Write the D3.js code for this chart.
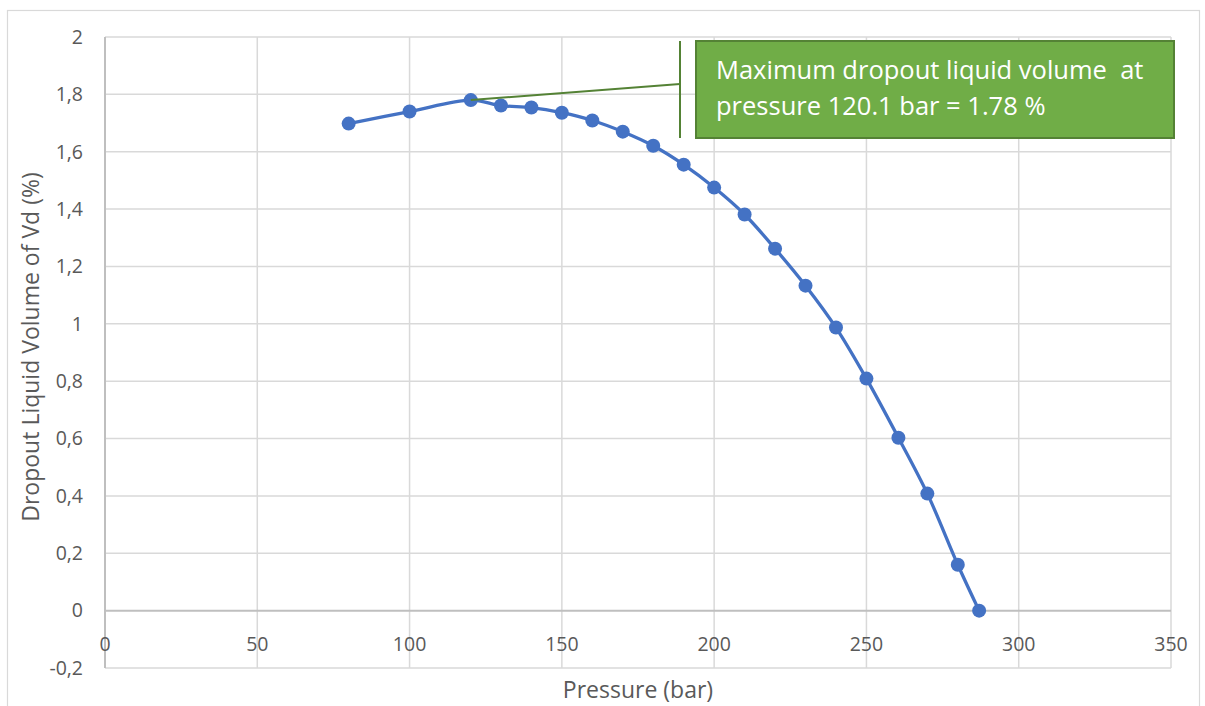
<!DOCTYPE html>
<html>
<head>
<meta charset="utf-8">
<script src="https://cdn.jsdelivr.net/npm/d3@7"></script>
<style>
  html, body { margin: 0; padding: 0; background: #fff; }
  svg { display: block; }
</style>
</head>
<body>
<svg id="chart" width="1205" height="706"></svg>
<script>
// Pressure (bar) and dropout liquid volume (% of Vd)
const pressure = [80, 100, 120.1, 130, 140, 150, 160, 170, 180, 190, 200, 210, 220, 230, 240, 250, 260.5, 270, 280, 287];
const dropout  = [1.698, 1.740, 1.78, 1.761, 1.754, 1.736, 1.709, 1.670, 1.621, 1.555, 1.475, 1.381, 1.262, 1.133, 0.987, 0.809, 0.603, 0.408, 0.160, 0.0];

const xTicks = [0, 50, 100, 150, 200, 250, 300, 350];
const xTickLabels = ["0", "50", "100", "150", "200", "250", "300", "350"];
const yTicks = [-0.2, 0, 0.2, 0.4, 0.6, 0.8, 1, 1.2, 1.4, 1.6, 1.8, 2];
const yTickLabels = ["-0,2", "0", "0,2", "0,4", "0,6", "0,8", "1", "1,2", "1,4", "1,6", "1,8", "2"];

const annotationLines = ["Maximum dropout liquid volume  at", "pressure 120.1 bar = 1.78 %"];
const peakIndex = 2;

const FONT = "'Open Sans', sans-serif";
const svg = d3.select("#chart");

// outer chart frame
svg.append("rect")
  .attr("x", 7.5).attr("y", 10.5)
  .attr("width", 1192).attr("height", 720)
  .attr("fill", "#fff").attr("stroke", "#d9d9d9").attr("stroke-width", 1.2);

const plot = { left: 105, right: 1171, top: 37, bottom: 668 };

const x = d3.scaleLinear().domain([0, 350]).range([plot.left, plot.right]);
const y = d3.scaleLinear().domain([-0.2, 2]).range([plot.bottom, plot.top]);

// gridlines
const grid = svg.append("g");
grid.selectAll("line.v").data(xTicks).join("line")
  .attr("x1", d => x(d)).attr("x2", d => x(d))
  .attr("y1", plot.top).attr("y2", plot.bottom)
  .attr("stroke", "#d9d9d9").attr("stroke-width", 1.5);
grid.selectAll("line.h").data(yTicks).join("line")
  .attr("x1", plot.left).attr("x2", plot.right)
  .attr("y1", d => y(d)).attr("y2", d => y(d))
  .attr("stroke", d => d === 0 ? "#bfbfbf" : "#d9d9d9")
  .attr("stroke-width", d => d === 0 ? 2 : 1.5);

// vertical axis line
svg.append("line")
  .attr("x1", x(0)).attr("x2", x(0))
  .attr("y1", plot.top).attr("y2", plot.bottom)
  .attr("stroke", "#bfbfbf").attr("stroke-width", 2);

// y tick labels
svg.append("g").selectAll("text").data(yTicks).join("text")
  .attr("x", 83).attr("y", d => y(d))
  .attr("dy", "0.35em")
  .attr("text-anchor", "end")
  .attr("font-family", FONT).attr("font-size", 19.5).attr("fill", "#595959")
  .text((d, i) => yTickLabels[i]);

// x tick labels (axis crosses at y = 0)
svg.append("g").selectAll("text").data(xTicks).join("text")
  .attr("x", d => x(d)).attr("y", y(0) + 40)
  .attr("text-anchor", "middle")
  .attr("font-family", FONT).attr("font-size", 19.5).attr("fill", "#595959")
  .text((d, i) => xTickLabels[i]);

// axis titles
svg.append("text")
  .attr("x", 638).attr("y", 698)
  .attr("text-anchor", "middle")
  .attr("font-family", FONT).attr("font-size", 23).attr("fill", "#595959")
  .text("Pressure (bar)");
svg.append("text")
  .attr("transform", `translate(39, 347) rotate(-90)`)
  .attr("text-anchor", "middle")
  .attr("font-family", FONT).attr("font-size", 23).attr("fill", "#595959")
  .text("Dropout Liquid Volume of Vd (%)");

// series
const pts = pressure.map((p, i) => [p, dropout[i]]);
const line = d3.line()
  .x(d => x(d[0])).y(d => y(d[1]))
  .curve(d3.curveCatmullRom.alpha(0.5));
svg.append("path").datum(pts)
  .attr("d", line)
  .attr("fill", "none").attr("stroke", "#4472c4").attr("stroke-width", 3.3);
svg.append("g").selectAll("circle").data(pts).join("circle")
  .attr("cx", d => x(d[0])).attr("cy", d => y(d[1])).attr("r", 7)
  .attr("fill", "#4472c4");

// callout: leader line, bracket and box
const bx = 696, by = 41, bw = 478, bh = 97;
const barX = 680;
svg.append("line")
  .attr("x1", x(pressure[peakIndex])).attr("y1", y(dropout[peakIndex]))
  .attr("x2", barX).attr("y2", 84)
  .attr("stroke", "#548235").attr("stroke-width", 2);
svg.append("line")
  .attr("x1", barX).attr("x2", barX).attr("y1", by).attr("y2", by + bh)
  .attr("stroke", "#548235").attr("stroke-width", 2);
svg.append("rect")
  .attr("x", bx).attr("y", by).attr("width", bw).attr("height", bh)
  .attr("fill", "#70ad47").attr("stroke", "#548235").attr("stroke-width", 2);
svg.append("g").selectAll("text").data(annotationLines).join("text")
  .attr("x", bx + 20).attr("y", (d, i) => by + 38 + i * 36)
  .attr("font-family", FONT).attr("font-size", 25.5).attr("fill", "#fff")
  .attr("xml:space", "preserve")
  .style("white-space", "pre")
  .text(d => d);
</script>
</body>
</html>
